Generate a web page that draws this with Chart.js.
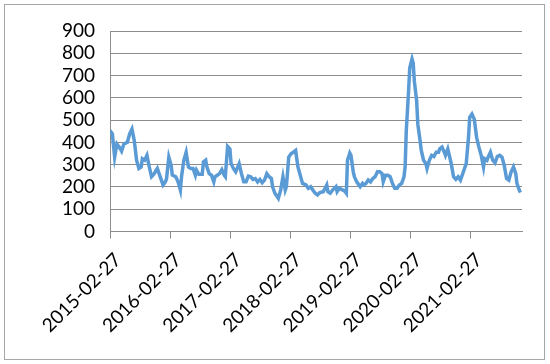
<!DOCTYPE html>
<html>
<head>
    <title>Weekly values 2015-2021</title>
    <script src="https://cdn.jsdelivr.net/npm/chart.js"></script>
    <style>
        html, body { margin: 0; padding: 0; background: #fff; }
        #wrap { width: 550px; height: 364px; position: relative; }
    </style>
</head>
<body>
    <div id="wrap"><canvas id="trend-chart"></canvas></div>

    <script>
        // weeks since 2015-02-27 and the value read for that week
        const weeks = [0,2,4,6,8,10,12,15,17,19,21,23,25,27,28,30,32,34,36,38,
            40,41,43,46,48,49,51,53,54,57,59,61,62,64,66,68,70,72,74,75,
            77,80,81,83,84,86,88,90,91,93,95,97,99,100,102,104,105,107,109,112,
            114,116,118,120,122,124,126,128,130,132,134,136,138,140,141,143,146,148,150,152,
            153,155,157,159,161,163,
            167,170,172,174,176,178,180,182,185,186,188,189,191,193,196,197,199,202,204,205,
            206,208,209,211,212,214,217,219,220,222,224,226,228,230,232,234,236,237,239,241,
            243,245,247,249,251,253,255,256,257,259,260,262,263,264,266,267,269,270,272,274,
            275,277,279,281,283,285,286,288,290,291,293,295,296,298,300,302,304,306,307,309,
            311,312,314,316,318,320,322,324,325,327,328,330,332,334,336,338,340,342,344,346,
            348,350,352,353,355,356];
        const values = [453,438,334,393,379,361,393,401,438,460,408,320,283,290,327,320,342,290,246,257,
            275,283,253,209,223,238,334,297,253,246,223,186,246,320,356,290,283,283,253,275,
            257,257,312,320,290,260,253,223,246,253,260,278,253,246,382,371,305,283,268,305,
            260,223,223,249,246,234,238,223,234,219,231,260,246,238,201,172,149,186,246,186,
            201,334,349,356,364,290,
            216,209,194,201,186,172,164,175,179,189,209,179,172,186,201,179,194,186,179,172,
            320,352,342,268,246,223,201,216,209,216,231,223,238,246,268,268,260,223,253,253,
            246,216,194,194,209,216,246,290,453,630,734,775,756,675,586,482,408,364,320,305,
            283,320,342,337,356,356,371,379,356,342,371,327,305,246,234,246,231,260,275,305,
            423,512,527,504,423,379,342,290,327,320,334,356,320,308,337,342,334,297,238,231,
            268,290,260,216,186,175];
        const tickLabels = ['2015-02-27','2016-02-27','2017-02-27','2018-02-27',
            '2019-02-27','2020-02-27','2021-02-27'];
        const startDate = tickLabels[0];
        const lastWeek = 357.4;

        const weekOf = d => (Date.parse(d) - Date.parse(startDate)) / (7 * 864e5);
        const points = weeks.map((w, i) => ({ x: w, y: values[i] }));

        const gridGray = '#8c8c8c';
        const font = { family: 'Lato', size: 19 };

        // light frame round the whole chart
        const framePlugin = {
            id: 'frame',
            beforeDraw(chart) {
                const c = chart.ctx;
                c.save();
                c.strokeStyle = '#a6a6a6';
                c.lineWidth = 1;
                c.strokeRect(4.5, 4.5, 540, 355);
                c.restore();
            }
        };

        const ctx = document.getElementById('trend-chart').getContext('2d');
        new Chart(ctx, {
            type: 'line',
            data: {
                datasets: [{
                    label: 'Value',
                    data: points,
                    borderColor: '#5b9bd5',
                    borderWidth: 3.5,
                    pointRadius: 0,
                    tension: 0,
                    fill: false
                }]
            },
            options: {
                responsive: true,
                maintainAspectRatio: false,
                animation: false,
                layout: { padding: { left: 47, top: 31, right: 28, bottom: 17 } },
                plugins: {
                    legend: { display: false },
                    tooltip: { enabled: false }
                },
                scales: {
                    x: {
                        type: 'linear',
                        min: 0,
                        max: lastWeek,
                        afterBuildTicks: scale => {
                            scale.ticks = tickLabels.map(d => ({ value: weekOf(d) }));
                        },
                        ticks: {
                            autoSkip: false,
                            minRotation: 45,
                            maxRotation: 45,
                            padding: 10,
                            labelOffset: 8,
                            color: '#000',
                            font: font,
                            callback: (v, i) => tickLabels[i]
                        },
                        grid: {
                            drawOnChartArea: false,
                            drawTicks: true,
                            tickLength: 7,
                            color: gridGray
                        },
                        border: { display: true, color: gridGray }
                    },
                    y: {
                        min: 0,
                        max: 900,
                        ticks: {
                            stepSize: 100,
                            autoSkip: false,
                            padding: 15,
                            color: '#000',
                            font: font
                        },
                        grid: {
                            drawTicks: false,
                            color: gridGray
                        },
                        border: { display: true, color: gridGray }
                    }
                }
            },
            plugins: [framePlugin]
        });
    </script>
</body>
</html>
